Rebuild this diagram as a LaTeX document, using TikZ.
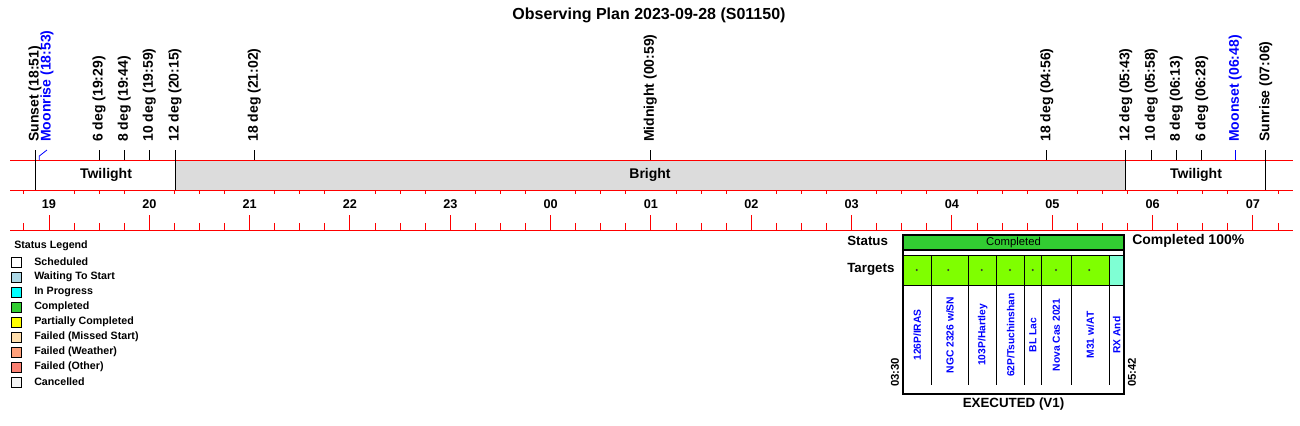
\documentclass[tikz,border=0pt]{standalone}
\usepackage{fontspec}
\setmainfont{Liberation Sans}
\usetikzlibrary{calc}
\definecolor{bandgray}{RGB}{220,220,220}
\definecolor{lgblue}{RGB}{173,216,230}
\definecolor{lgcyan}{RGB}{0,255,255}
\definecolor{lggreen}{RGB}{50,205,50}
\definecolor{lgyellow}{RGB}{255,255,0}
\definecolor{lgpeach}{RGB}{255,222,173}
\definecolor{lgsalmonlt}{RGB}{255,160,122}
\definecolor{lgsalmon}{RGB}{250,128,114}
\definecolor{lgsmoke}{RGB}{245,245,245}
\definecolor{tgtgreen}{RGB}{127,255,0}
\definecolor{tgtaqua}{RGB}{127,255,212}
\definecolor{moonblue}{RGB}{0,0,255}
\tikzset{
  redline/.style={draw=red, line width=0.75pt},
  evtick/.style={draw=black, line width=0.75pt},
  evlabel/.style={rotate=90, anchor=west, inner sep=0pt, font=\fontsize{10.5}{12}\selectfont\bfseries},
  hourlabel/.style={inner sep=0pt, font=\fontsize{9.5}{11}\selectfont\bfseries},
  bandlabel/.style={inner sep=0pt, font=\fontsize{10.5}{12}\selectfont\bfseries},
  legendbox/.style={draw=black, line width=0.75pt},
  legendtext/.style={anchor=west, inner sep=0pt, font=\fontsize{8}{9}\selectfont\bfseries},
  tgtlabel/.style={rotate=90, inner sep=0pt, text=moonblue, font=\fontsize{7.7}{9}\selectfont\bfseries}
}
\def\hourx#1{49+100.33*#1}

\begin{document}
\begin{tikzpicture}[x=0.75pt, y=-0.75pt]
  \useasboundingbox (0,0) rectangle (1300,425);

  %%%%% TITLE %%%%%
  \node[inner sep=0pt, font=\fontsize{12}{14}\selectfont\bfseries] (title) at (649,15) {Observing Plan 2023-09-28 (S01150)};

  %%%%% NIGHT BAND %%%%%
  \fill[bandgray] (175,160) rectangle (1125.7,190);
  \draw[redline] (10,160) -- (1293,160);
  \draw[redline] (10,190) -- (1293,190);
  \draw[redline] (10,230) -- (1293,230);

  \node[bandlabel] (twilighteve) at (106,175) {Twilight};
  \node[bandlabel] (bright) at (650,175) {Bright};
  \node[bandlabel] (twilightmorn) at (1196,175) {Twilight};

  % quarter and hour ticks
  \foreach \k in {-1,...,49}{
    \pgfmathsetmacro{\tx}{49+25.083*\k}
    \pgfmathtruncatemacro{\m}{mod(\k+4,4)}
    \ifnum\m=0
      \draw[redline] (\tx,215) -- (\tx,230);
    \else
      \draw[redline] (\tx,223) -- (\tx,230);
      \draw[redline] (\tx,190) -- (\tx,194);
    \fi
  }

  % hour labels
  \foreach \lab [count=\n from 0] in {19,20,21,22,23,00,01,02,03,04,05,06,07}{
    \node[hourlabel] (hr\n) at (\hourx{\n},204) {\lab};
  }

  %%%%% EVENTS %%%%%
  \foreach \ex/\etxt [count=\n] in {35/{Sunset (18:51)}, 175/{12 deg (20:15)}, 1125.7/{12 deg (05:43)}, 1265.7/{Sunrise (07:06)}}{
    \draw[evtick] (\ex,150) -- (\ex,190);
    \node[evlabel] (evlong\n) at (\ex,142) {\etxt};
  }
  \foreach \ex/\etxt [count=\n] in {99/{6 deg (19:29)}, 124.3/{8 deg (19:44)}, 149.3/{10 deg (19:59)}, 254.3/{18 deg (21:02)}, 650.3/{Midnight (00:59)}, 1046.7/{18 deg (04:56)}, 1151.3/{10 deg (05:58)}, 1176.3/{8 deg (06:13)}, 1201.7/{6 deg (06:28)}}{
    \draw[evtick] (\ex,150) -- (\ex,160);
    \node[evlabel] (ev\n) at (\ex,142) {\etxt};
  }

  % moon
  \draw[moonblue, line width=0.6pt] (39.3,160) -- (39.3,156) -- (47,150);
  \node[evlabel, text=moonblue] (moonrise) at (47,142) {Moonrise (18:53)};
  \draw[moonblue, line width=0.75pt] (1235.3,150) -- (1235.3,160);
  \node[evlabel, text=moonblue] (moonset) at (1235.3,142) {Moonset (06:48)};

  %%%%% LEGEND %%%%%
  \node[legendtext] (legtitle) at (14,246) {Status Legend};
  \foreach \lc/\ltxt [count=\n from 0] in {white/Scheduled, lgblue/{Waiting To Start}, lgcyan/{In Progress}, lggreen/Completed, lgyellow/{Partially Completed}, lgpeach/{Failed (Missed Start)}, lgsalmonlt/{Failed (Weather)}, lgsalmon/{Failed (Other)}, lgsmoke/Cancelled}{
    \draw[legendbox, fill=\lc] (11,{257+15*\n}) rectangle (21,{267+15*\n});
    \node[legendtext] (leg\n) at (34,{262+15*\n}) {\ltxt};
  }

  %%%%% EXECUTED BLOCK %%%%%
  \node[anchor=west, inner sep=0pt, font=\fontsize{10}{12}\selectfont\bfseries] (status) at (847,241) {Status};
  \node[anchor=west, inner sep=0pt, font=\fontsize{10}{12}\selectfont\bfseries] (targets) at (847,269) {Targets};
  \node[anchor=west, inner sep=0pt, font=\fontsize{10.5}{12}\selectfont\bfseries] (pct) at (1132,241) {Completed 100\%};

  \draw[line width=0.9pt, fill=lggreen] (903,235) rectangle (1124,250);
  \node[inner sep=0pt, font=\fontsize{8.5}{10}\selectfont] (statusbar) at (1013.5,242.5) {Completed};

  \foreach \xa/\xb/\tname/\tc in {903/931.3/{126P/IRAS}/tgtgreen, 931.3/968.7/{NGC 2326 w/SN}/tgtgreen, 968.7/996.7/{103P/Hartley}/tgtgreen, 996.7/1024.7/{62P/Tsuchinshan}/tgtgreen, 1024.7/1041.3/{BL Lac}/tgtgreen, 1041.3/1071.3/{Nova Cas 2021}/tgtgreen, 1071.3/1109.3/{M31 w/AT}/tgtgreen, 1109.3/1124/{RX And}/tgtaqua}{
    \draw[line width=0.75pt, fill=\tc] (\xa,255) rectangle (\xb,285);
    \draw[line width=0.6pt] (\xb,285) -- (\xb,385);
    \node[tgtlabel] at ({(\xa+\xb)/2},335) {\tname};
  }
  \foreach \dx in {916.7,948.3,981.7,1010,1032.7,1056,1089.3}{
    \fill[black!80] (\dx,270) circle (1.1);
  }
  \draw[line width=1.4pt] (903,235) -- (903,394) -- (1124,394) -- (1124,235);

  \node[rotate=90, anchor=west, inner sep=0pt, font=\fontsize{8.5}{10}\selectfont\bfseries] (tstart) at (895,387) {03:30};
  \node[rotate=90, anchor=west, inner sep=0pt, font=\fontsize{8.5}{10}\selectfont\bfseries] (tend) at (1132,387) {05:42};
  \node[inner sep=0pt, font=\fontsize{10}{12}\selectfont\bfseries] (executed) at (1013.5,404) {EXECUTED (V1)};
\end{tikzpicture}
\end{document}
